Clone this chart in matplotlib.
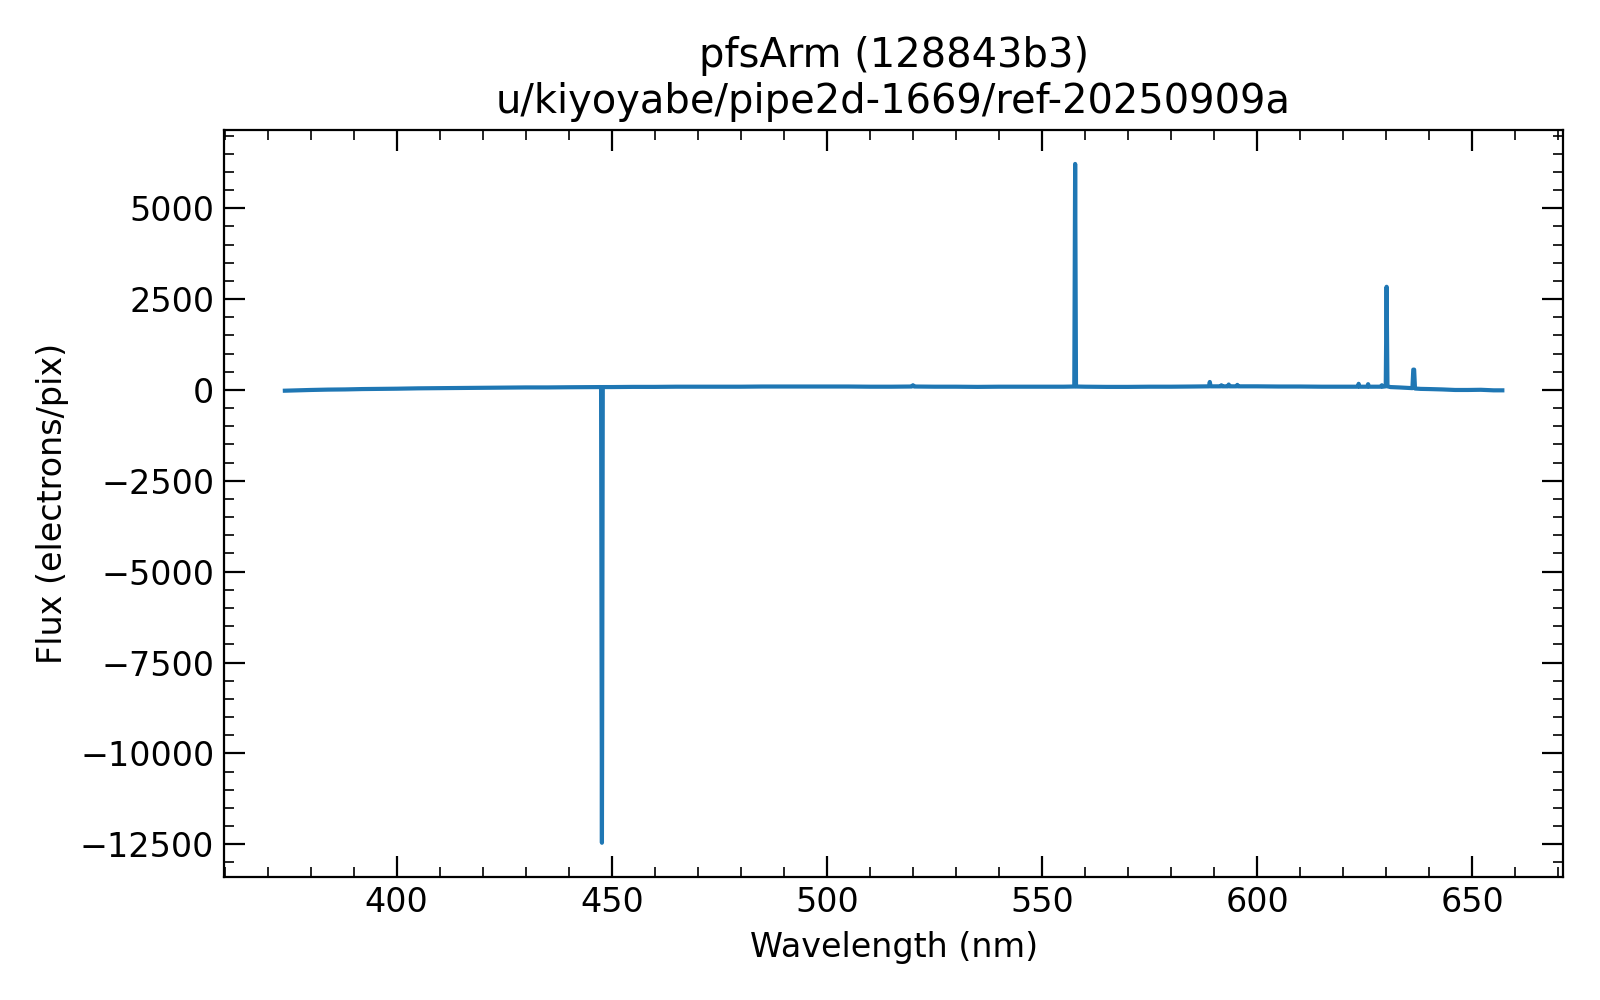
import matplotlib
matplotlib.use("Agg")
import matplotlib.pyplot as plt
from matplotlib.ticker import MultipleLocator

title_lines = ["pfsArm (128843b3)", "u/kiyoyabe/pipe2d-1669/ref-20250909a"]
x_label = "Wavelength (nm)"
y_label = "Flux (electrons/pix)"

wavelength = [374.0, 377.0, 380.0, 384.0, 388.0, 392.0, 396.0, 400.0, 405.0, 410.0,
              415.0, 420.0, 425.0, 430.0, 435.0, 440.0, 447.5, 447.7,
              447.9, 450.0, 455.0, 460.0, 465.0, 470.0, 475.0, 480.0, 485.0, 490.0,
              495.0, 500.0, 505.0, 510.0, 515.0, 519.7, 520.0, 520.3, 525.0, 530.0,
              535.0, 540.0, 545.0, 550.0, 555.0, 557.5, 557.7, 557.9, 560.0, 565.0,
              570.0, 575.0, 580.0, 585.0, 588.8, 589.0, 589.2, 591.5, 591.7, 591.9,
              593.2, 593.4, 593.6, 595.2, 595.4, 595.6,
              598.0, 600.0, 605.0, 610.0, 615.0, 620.0, 623.4, 623.6, 623.8,
              625.6, 625.8, 626.0, 628.8, 629.0, 629.2,
              629.9, 630.1, 630.3, 631.0, 633.0, 636.1, 636.3, 636.5, 636.7, 638.0,
              640.0, 643.0, 646.0, 649.0, 652.0, 655.0, 657.0]
flux = [-20, -10, 0, 10, 15, 25, 30, 35, 45, 50,
        55, 60, 65, 70, 70, 75, 80, -12460,
        80, 80, 85, 85, 90, 90, 90, 90, 95, 95,
        95, 95, 95, 90, 90, 95, 130, 95, 90, 90,
        85, 90, 90, 90, 90, 95, 6220, 95, 90, 85,
        85, 90, 90, 95, 100, 220, 100, 100, 130, 100,
        100, 150, 100, 100, 140, 100,
        100, 100, 95, 95, 90, 90, 90, 170, 90,
        90, 160, 90, 90, 130, 90,
        100, 2840, 100, 80, 70, 50, 560, 560, 40, 30,
        25, 15, 0, 0, 5, -10, -10]

plt.rcParams["font.family"] = ["DejaVu Sans"]
plt.rcParams["font.size"] = 12

fig = plt.figure(figsize=(8, 5), dpi=200)
ax = fig.add_axes([0.14, 0.1233, 0.837, 0.7467])
ax.plot(wavelength, flux, color="#1f77b4", linewidth=1.5)

ax.set_title("\n".join(title_lines), fontsize=14.4)
ax.set_xlabel(x_label)
ax.set_ylabel(y_label)

ax.xaxis.set_major_locator(MultipleLocator(50))
ax.xaxis.set_minor_locator(MultipleLocator(10))
ax.yaxis.set_major_locator(MultipleLocator(2500))
ax.yaxis.set_minor_locator(MultipleLocator(500))
ax.tick_params(which="both", direction="in", top=True, right=True)
ax.tick_params(which="major", length=7.5)
ax.tick_params(which="minor", length=3.6)

fig.savefig("out.png", dpi=200)
